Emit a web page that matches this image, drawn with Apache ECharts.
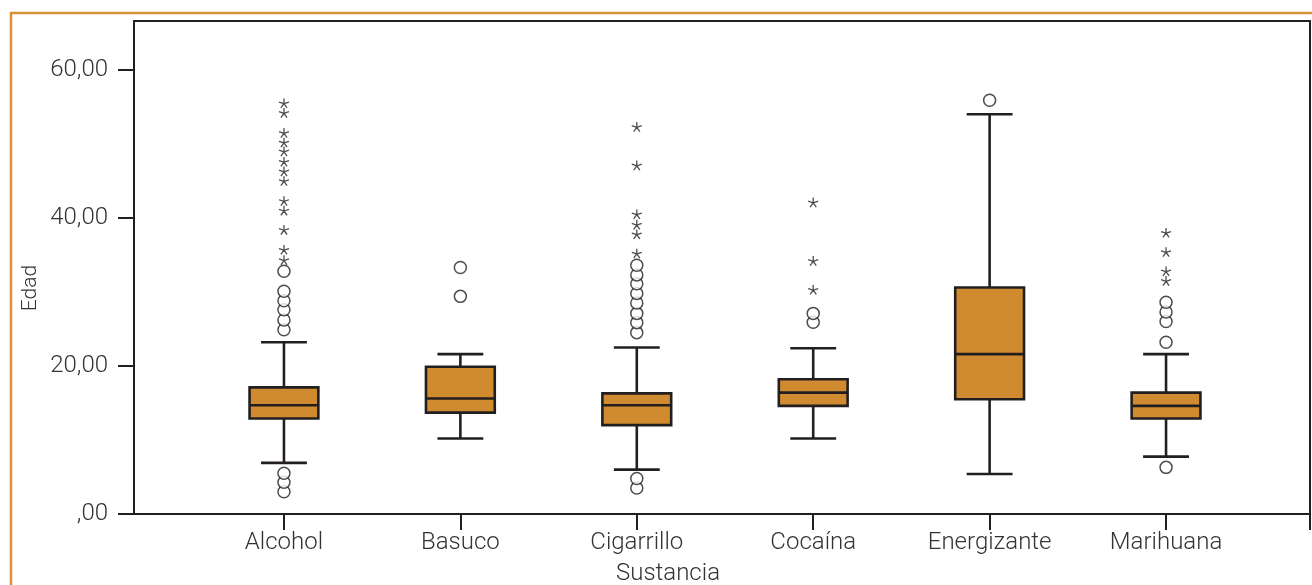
<!DOCTYPE html>
<html>
<head>
<meta charset="utf-8">
<script src="https://cdn.jsdelivr.net/npm/echarts@6/dist/echarts.min.js"></script>
<style>
html,body{margin:0;padding:0;background:#fff;}
#c{width:1312px;height:585px;}
</style>
</head>
<body>
<div id="c"></div>
<script>
// ---- data ----
var categories = ['Alcohol', 'Basuco', 'Cigarrillo', 'Cocaína', 'Energizante', 'Marihuana'];
var whiskerLow  = [6.9, 10.2, 6.0, 10.2, 5.4, 7.75];
var quartile1   = [12.9, 13.7, 12.0, 14.6, 15.5, 12.9];
var medians     = [14.7, 15.6, 14.7, 16.4, 21.6, 14.6];
var quartile3   = [17.1, 19.9, 16.3, 18.2, 30.6, 16.4];
var whiskerHigh = [23.2, 21.6, 22.5, 22.4, 54.0, 21.6];
// outliers drawn as circles
var circleOutliers = [
  [3.0, 4.3, 5.5, 24.9, 26.2, 27.6, 28.8, 30.1, 32.8],
  [29.4, 33.3],
  [3.5, 4.8, 24.5, 25.85, 27.1, 28.5, 29.8, 31.1, 32.3, 33.6],
  [25.9, 27.1],
  [55.9],
  [6.3, 23.2, 26.0, 27.3, 28.6]
];
// extreme values drawn as asterisks
var starOutliers = [
  [34.3, 35.7, 38.4, 41.0, 42.3, 45.0, 46.3, 47.6, 49.0, 50.2, 51.5, 54.2, 55.5],
  [],
  [35.2, 37.8, 39.1, 40.5, 47.1, 52.3],
  [30.3, 34.2, 42.1],
  [],
  [31.5, 32.8, 35.4, 38.0]
];
var yTicks = [0, 20, 40, 60];
var yTickLabels = [',00', '20,00', '40,00', '60,00'];

// ---- build ----
var boxData = categories.map(function (c, i) {
  return [i, whiskerLow[i], quartile1[i], medians[i], quartile3[i], whiskerHigh[i]];
});
var circleData = [];
circleOutliers.forEach(function (arr, i) { arr.forEach(function (v) { circleData.push([i, v]); }); });
var starData = [];
starOutliers.forEach(function (arr, i) { arr.forEach(function (v) { starData.push([i, v]); }); });

var INK = '#231f20';
var TXT = '#333333';
var FONT = 'Roboto';
var xMin = -0.85, xMax = 5.816;

var chart = echarts.init(document.getElementById('c'), null, {renderer: 'canvas'});
chart.setOption({
  backgroundColor: '#fff',
  animation: false,
  grid: {left: 134, right: 2, top: 21, bottom: 71, show: true, borderColor: INK, borderWidth: 2, backgroundColor: 'transparent'},
  xAxis: {
    type: 'value', min: xMin, max: xMax,
    splitLine: {show: false},
    axisLine: {show: true, onZero: false, lineStyle: {color: INK, width: 2}},
    axisTick: {show: true, length: 16, lineStyle: {color: INK, width: 2},
      customValues: [0, 1, 2, 3, 4, 5, xMax]},
    axisLabel: {
      customValues: [0, 1, 2, 3, 4, 5],
      formatter: function (v) { return categories[Math.round(v)] || ''; },
      color: TXT, fontFamily: FONT, fontWeight: 300, fontSize: 24, margin: 17
    }
  },
  yAxis: {
    type: 'value', min: 0, max: 66.6,
    splitLine: {show: false},
    axisLine: {show: true, onZero: false, lineStyle: {color: INK, width: 2}},
    axisTick: {show: true, length: 16, lineStyle: {color: INK, width: 2}, customValues: yTicks},
    axisLabel: {
      customValues: yTicks,
      formatter: function (v) { var k = yTicks.indexOf(Math.round(v)); return k >= 0 ? yTickLabels[k] : ''; },
      color: TXT, fontFamily: FONT, fontWeight: 300, fontSize: 24, margin: 26
    }
  },
  graphic: [
    {type: 'polyline', silent: true, z: 100,
      shape: {points: [[11, 585], [11, 13], [1312, 13]]},
      style: {stroke: '#d8923a', lineWidth: 2.5, fill: null}},
    {type: 'text', x: 31, y: 288, rotation: Math.PI / 2,
      style: {text: 'Edad', fill: TXT, font: '300 21px Roboto', align: 'center', verticalAlign: 'middle'}},
    {type: 'text', x: 668, y: 574,
      style: {text: 'Sustancia', fill: TXT, font: '300 24px Roboto', align: 'center', verticalAlign: 'middle'}}
  ],
  series: [
    {
      type: 'custom',
      data: boxData,
      encode: {x: 0, y: [1, 2, 3, 4, 5]},
      renderItem: function (params, api) {
        var i = api.value(0);
        var unit = api.size([1, 0])[0];
        var bw = unit * 0.39, cw = unit * 0.13;
        var pLow = api.coord([i, api.value(1)]);
        var pQ1 = api.coord([i, api.value(2)]);
        var pMed = api.coord([i, api.value(3)]);
        var pQ3 = api.coord([i, api.value(4)]);
        var pHigh = api.coord([i, api.value(5)]);
        var x = pMed[0];
        var ls = {stroke: INK, lineWidth: 2.6};
        return {
          type: 'group',
          children: [
            {type: 'line', shape: {x1: x, y1: pQ3[1], x2: x, y2: pHigh[1]}, style: ls},
            {type: 'line', shape: {x1: x, y1: pQ1[1], x2: x, y2: pLow[1]}, style: ls},
            {type: 'line', shape: {x1: x - cw, y1: pHigh[1], x2: x + cw, y2: pHigh[1]}, style: ls},
            {type: 'line', shape: {x1: x - cw, y1: pLow[1], x2: x + cw, y2: pLow[1]}, style: ls},
            {type: 'rect', shape: {x: x - bw / 2, y: pQ3[1], width: bw, height: pQ1[1] - pQ3[1]},
              style: {fill: '#d08a2f', stroke: INK, lineWidth: 2.6}},
            {type: 'line', shape: {x1: x - bw / 2, y1: pMed[1], x2: x + bw / 2, y2: pMed[1]}, style: ls}
          ]
        };
      }
    },
    {
      type: 'scatter', data: circleData, symbol: 'circle', symbolSize: 12,
      itemStyle: {color: '#fff', borderColor: INK, borderWidth: 1.5}, z: 5
    },
    {
      type: 'scatter', data: starData,
      symbol: 'path://M0,0L0,-5M0,0L4.76,-1.55M0,0L2.94,4.05M0,0L-2.94,4.05M0,0L-4.76,-1.55',
      symbolKeepAspect: true, symbolSize: 10,
      itemStyle: {color: 'none', borderColor: INK, borderWidth: 1.3}, z: 5
    }
  ]
});
</script>
</body>
</html>
